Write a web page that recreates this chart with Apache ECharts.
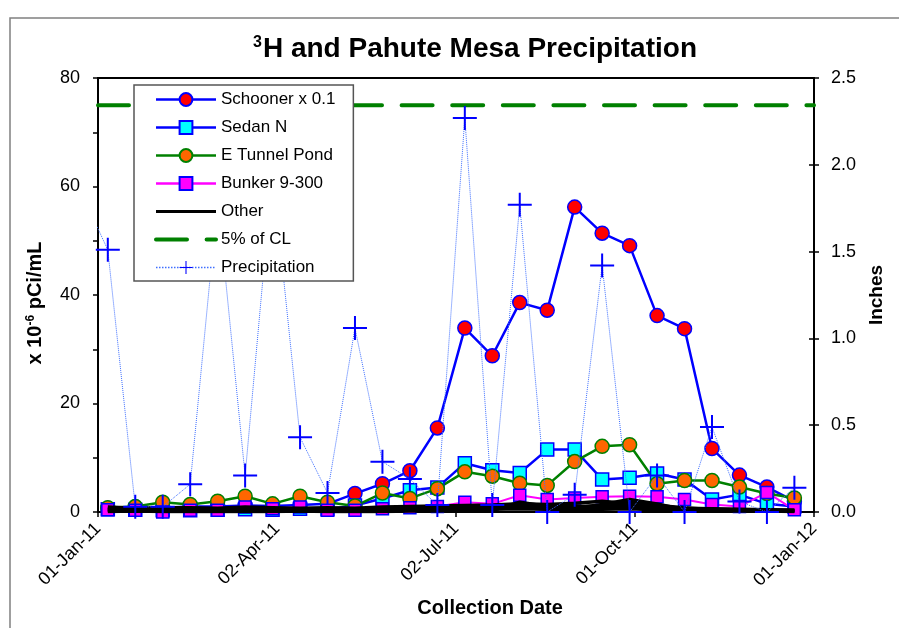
<!DOCTYPE html>
<html>
<head>
<meta charset="utf-8">
<script src="https://cdn.jsdelivr.net/npm/echarts@6/dist/echarts.min.js"></script>
<style>
  html, body { margin: 0; padding: 0; background: #fff; }
  #chart { width: 899px; height: 628px; }
</style>
</head>
<body>
<div id="chart"></div>
<script>
// sample dates (biweekly collection)
const dates = ['2011-01-06','2011-01-20','2011-02-03','2011-02-17','2011-03-03','2011-03-17','2011-03-31',
  '2011-04-14','2011-04-28','2011-05-12','2011-05-26','2011-06-09','2011-06-23','2011-07-07','2011-07-21',
  '2011-08-04','2011-08-18','2011-09-01','2011-09-15','2011-09-29','2011-10-13','2011-10-27','2011-11-10',
  '2011-11-24','2011-12-08','2011-12-22'];

// x 10^-6 pCi/mL
const schooner = [0.7, 0.9, 0.8, 1.0, 1.0, 1.2, 1.1, 1.3, 1.5, 3.4, 5.2, 7.6, 15.5, 33.9, 28.8, 38.6, 37.2, 56.2, 51.4, 49.1, 36.2, 33.8, 11.7, 6.8, 4.6, 2.0];
const sedanN = [0.5, 0.4, 0.3, 0.3, 0.4, 0.5, 0.4, 0.6, 0.5, 1.2, 2.5, 4.0, 4.5, 9.0, 7.7, 7.2, 11.5, 11.5, 6.0, 6.3, 7.1, 6.0, 2.3, 3.2, 1.5, 1.0];
const eTunnel = [0.8, 1.0, 1.8, 1.4, 2.0, 2.9, 1.5, 2.9, 1.8, 1.1, 3.5, 2.5, 4.3, 7.4, 6.6, 5.3, 4.9, 9.3, 12.1, 12.4, 5.2, 5.8, 5.8, 4.6, 3.4, 2.6];
const bunker = [0.4, 0.3, 0.0, 0.3, 0.3, 0.9, 0.6, 0.9, 0.3, 0.3, 0.6, 0.8, 1.0, 1.8, 1.5, 3.1, 2.3, 2.6, 2.8, 2.9, 2.8, 2.3, 1.4, 1.0, 3.6, 0.4];
const others = [
  [0.3, 0.3, 0.2, 0.2, 0.2, 0.3, 0.2, 0.3, 0.2, 0.2, 0.3, 0.3, 0.4, 0.4, 0.5, 0.6, 0.5, 0.4, 0.5, 0.6, 0.4, 0.3, 0.2, 0.2, 0.2, 0.2],
  [0.6, 0.5, 0.5, 0.4, 0.5, 0.5, 0.4, 0.6, 0.5, 0.4, 0.6, 0.7, 0.8, 0.9, 0.8, 1.2, 0.9, 1.0, 1.1, 1.0, 0.8, 0.6, 0.5, 0.4, 0.4, 0.3],
  [0.1, 0.2, 0.1, 0.1, 0.1, 0.1, 0.1, 0.2, 0.1, 0.1, 0.1, 0.2, 0.2, 0.3, 0.3, 1.8, 1.0, 0.5, 0.8, 1.9, 1.2, 0.8, 0.4, 0.3, 0.3, 0.2],
  [0.9, 0.7, 0.8, 0.8, 0.7, 0.9, 0.8, 0.7, 0.8, 0.7, 0.9, 1.0, 1.1, 1.2, 1.3, 1.5, 1.4, 1.6, 2.0, 1.5, 0.9, 0.7, 0.6, 0.5, 0.4, 0.3],
  [0.4, 0.4, 0.3, 0.3, 0.3, 0.4, 0.3, 0.4, 0.3, 0.3, 0.4, 0.5, 0.6, 0.6, 0.7, 0.8, 0.6, 0.7, 1.4, 2.3, 1.5, 0.4, 0.3, 0.3, 0.2, 0.1]
];
const clLimit = 75;

// inches (first point is before the axis start, clipped)
const precipDates = ['2010-12-23'].concat(dates);
const precip = [1.85, 1.51, 0.03, 0.03, 0.16, 1.80, 0.21, 1.96, 0.43, 0.11, 1.06, 0.29, 0.19, 0.04, 2.27, 0.04, 1.77, 0.0, 0.10, 1.42, 0.0, 0.21, 0.0, 0.49, 0.06, 0.0, 0.14];

const xTickDays = 91.25;

const DAY0 = Date.UTC(2011, 0, 1);
const MONTHS = ['Jan','Feb','Mar','Apr','May','Jun','Jul','Aug','Sep','Oct','Nov','Dec'];
function toDay(s) {
  const p = s.split('-');
  return (Date.UTC(+p[0], +p[1] - 1, +p[2]) - DAY0) / 86400000;
}
function fmtDay(v) {
  const d = new Date(DAY0 + Math.floor(v + 1e-6) * 86400000);
  const dd = String(d.getUTCDate()).padStart(2, '0');
  return dd + '-' + MONTHS[d.getUTCMonth()] + '-' + String(d.getUTCFullYear()).slice(2);
}
function pairs(ds, vals) {
  return ds.map((s, i) => [toDay(s), vals[i]]);
}

const FONT = '"Liberation Sans", Arial, sans-serif';
const crossPath = 'path://M-1,-12 L1,-12 L1,-1 L12,-1 L12,1 L1,1 L1,12 L-1,12 L-1,1 L-12,1 L-12,-1 L-1,-1 Z';

const otherSeries = others.map((vals) => ({
  name: 'Other',
  type: 'line',
  data: pairs(dates, vals),
  symbol: 'none',
  lineStyle: { color: '#000', width: 3.5 },
  itemStyle: { color: '#000' },
  z: 3
}));

const chart = echarts.init(document.getElementById('chart'));
chart.setOption({
  animation: false,
  textStyle: { fontFamily: FONT },
  graphic: [{
    type: 'rect',
    shape: { x: 10, y: 18, width: 1000, height: 1000 },
    style: { fill: 'none', stroke: '#808080', lineWidth: 1.5 },
    silent: true
  }],
  title: {
    text: '{s|3}{t|H and Pahute Mesa Precipitation}',
    left: 470,
    textAlign: 'center',
    top: 30,
    textStyle: {
      rich: {
        s: { fontSize: 16, fontWeight: 'bold', color: '#000', fontFamily: FONT, verticalAlign: 'top', padding: [0, 1, 12, 0] },
        t: { fontSize: 28, fontWeight: 'bold', color: '#000', fontFamily: FONT }
      }
    }
  },
  legend: {
    orient: 'vertical',
    left: 134,
    top: 85,
    padding: [6, 18, 5, 20],
    itemGap: 11,
    itemWidth: 60,
    itemHeight: 16,
    borderColor: '#555',
    borderWidth: 1.5,
    backgroundColor: '#fff',
    textStyle: { fontSize: 17, color: '#000', fontFamily: FONT },
    data: [
      { name: 'Schooner x 0.1', lineStyle: { width: 2.5 } },
      { name: 'Sedan N', lineStyle: { width: 2.5 } },
      { name: 'E Tunnel Pond', lineStyle: { width: 2.5 } },
      { name: 'Bunker 9-300', lineStyle: { width: 2.5 } },
      { name: 'Other', itemStyle: { opacity: 0 }, lineStyle: { width: 3 } },
      { name: '5% of CL', itemStyle: { opacity: 0 }, lineStyle: { width: 4 } },
      { name: 'Precipitation', lineStyle: { width: 1.5, color: '#3f6fff', type: 'dotted' } }
    ],
    z: 10
  },
  grid: {
    left: 98, right: 85, top: 78, bottom: 116,
    show: true, borderColor: '#000', borderWidth: 2
  },
  xAxis: {
    type: 'value',
    min: 0,
    max: 365,
    interval: xTickDays,
    name: 'Collection Date',
    nameLocation: 'middle',
    nameGap: 86,
    nameTextStyle: { fontSize: 20, fontWeight: 'bold', color: '#000', fontFamily: FONT, padding: [0, 0, 0, 68] },
    axisLine: { lineStyle: { color: '#000', width: 2 } },
    axisTick: { show: true, length: 5, lineStyle: { color: '#000', width: 1.5 } },
    splitLine: { show: false },
    axisLabel: {
      rotate: 45,
      margin: 14,
      fontSize: 18,
      color: '#000',
      fontFamily: FONT,
      formatter: fmtDay
    }
  },
  yAxis: [{
    type: 'value',
    min: 0,
    max: 80,
    interval: 20,
    name: 'x 10{s|-6} pCi/mL',
    nameLocation: 'middle',
    nameGap: 52,
    nameTextStyle: {
      fontSize: 20, fontWeight: 'bold', color: '#000', fontFamily: FONT, padding: [0, 16, 0, 0],
      rich: { s: { fontSize: 12, fontWeight: 'bold', color: '#000', fontFamily: FONT, verticalAlign: 'top', padding: [0, 0, 9, 0] } }
    },
    axisLine: { show: true, lineStyle: { color: '#000', width: 2 } },
    axisTick: { show: true, length: 5, lineStyle: { color: '#000', width: 1.5 } },
    minorTick: { show: true, splitNumber: 2, length: 5, lineStyle: { color: '#000', width: 1.5 } },
    splitLine: { show: false },
    axisLabel: { margin: 18, fontSize: 18, color: '#000', fontFamily: FONT }
  }, {
    type: 'value',
    min: 0,
    max: 2.5,
    interval: 0.5,
    position: 'right',
    name: 'Inches',
    nameLocation: 'middle',
    nameGap: 53,
    nameTextStyle: { fontSize: 19, fontWeight: 'bold', color: '#000', fontFamily: FONT },
    axisLine: { show: true, lineStyle: { color: '#000', width: 2 } },
    axisTick: { show: true, length: 5, lineStyle: { color: '#000', width: 1.5 } },
    splitLine: { show: false },
    axisLabel: { margin: 17, fontSize: 18, color: '#000', fontFamily: FONT, formatter: (v) => v.toFixed(1) }
  }, {
    // inner half of the crossing ticks on the right axis
    type: 'value',
    min: 0,
    max: 2.5,
    interval: 0.5,
    position: 'right',
    axisLine: { show: false },
    axisTick: { show: true, inside: true, length: 5, lineStyle: { color: '#000', width: 1.5 } },
    axisLabel: { show: false },
    splitLine: { show: false }
  }],
  series: [{
    name: 'Schooner x 0.1',
    type: 'line',
    data: pairs(dates, schooner),
    symbol: 'circle',
    symbolSize: 14,
    lineStyle: { color: '#0000ff', width: 2.5 },
    itemStyle: { color: '#ff0000', borderColor: '#0000ff', borderWidth: 1.5 },
    z: 2
  }, {
    name: 'Sedan N',
    type: 'line',
    data: pairs(dates, sedanN),
    symbol: 'rect',
    symbolSize: 13,
    lineStyle: { color: '#0000ff', width: 2.5 },
    itemStyle: { color: '#00ffff', borderColor: '#0000ff', borderWidth: 1.5 },
    z: 2
  }, {
    name: 'E Tunnel Pond',
    type: 'line',
    data: pairs(dates, eTunnel),
    symbol: 'circle',
    symbolSize: 14,
    lineStyle: { color: '#008000', width: 2.5 },
    itemStyle: { color: '#ff6600', borderColor: '#008000', borderWidth: 1.5 },
    z: 2
  }, {
    name: 'Bunker 9-300',
    type: 'line',
    data: pairs(dates, bunker),
    symbol: 'rect',
    symbolSize: 12,
    lineStyle: { color: '#ff00ff', width: 2 },
    itemStyle: { color: '#ff00ff', borderColor: '#0000ff', borderWidth: 1.5 },
    z: 2
  }].concat(otherSeries, [{
    name: '5% of CL',
    type: 'line',
    data: [[0, clLimit], [365, clLimit]],
    symbol: 'none',
    lineStyle: { color: '#008000', width: 4, type: [31, 19.6], cap: 'round' },
    itemStyle: { color: '#008000' },
    z: 4
  }, {
    name: 'Precipitation',
    type: 'line',
    yAxisIndex: 1,
    data: pairs(precipDates, precip),
    symbol: crossPath,
    symbolSize: 24,
    lineStyle: { color: '#3f6fff', width: 1, type: 'dotted' },
    itemStyle: { color: '#0000ff' },
    z: 5
  }])
});
</script>
</body>
</html>
